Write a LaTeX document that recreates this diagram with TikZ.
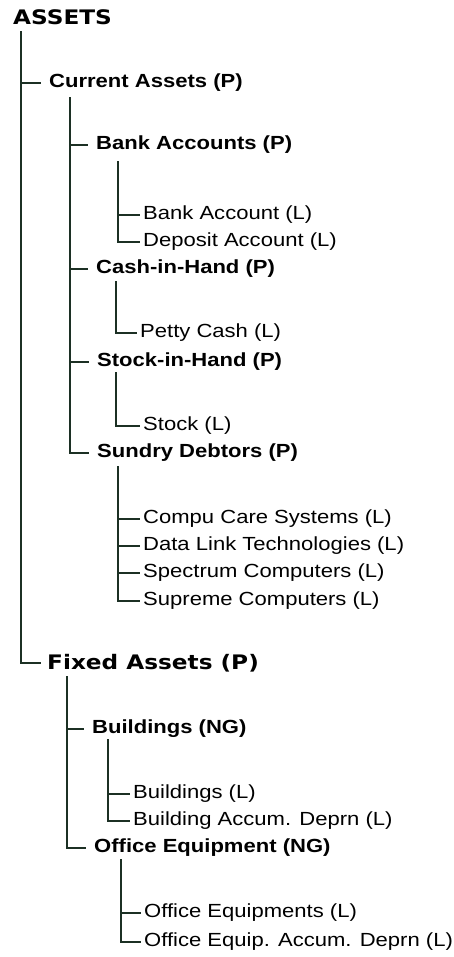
\documentclass[tikz,border=0pt]{standalone}
\usepackage{fontspec}
\setmainfont{Liberation Sans}[FakeStretch=1.16]
\newfontfamily\headfont{DejaVu Sans}[FakeStretch=1.16]
\usepackage{tikz}
\usetikzlibrary{calc}
\definecolor{TreeGreen}{RGB}{28,48,36}
\tikzset{branch/.style={
         color=#1,line width=1.6pt,line cap=rect}}
\tikzset{group/.style={
         anchor=west,inner xsep=#1,inner ysep=0pt,font=\fontsize{19}{22}\selectfont\bfseries}}
\tikzset{leaf/.style={
         anchor=west,inner xsep=#1,inner ysep=0pt,font=\fontsize{19}{22}\selectfont}}
\tikzset{head/.style={
         anchor=west,inner xsep=#1,inner ysep=0pt,font=\fontsize{20}{24}\headfont\bfseries}}

\begin{document}
\begin{tikzpicture}[x=1pt,y=-1pt,
tree/.style={branch=TreeGreen},grp/.style={group=9pt},lf/.style={leaf=4pt}]
\useasboundingbox (0,0) rectangle (454,957);

% 根
\node (as) at (13,17.5) [head=0pt] {ASSETS};
\coordinate (as-t) at (21,32);
\node (ca) at (40,83) [grp] {Current Assets (P)};
\node (fa) at (40,663) [head=7pt] {Fixed Assets (P)};
\foreach \c in {ca,fa} {\draw [tree] (as-t) |- (\c.west);}

% 流动资产
\begin{scope}
\coordinate (ca-t) at (70,98);
\node (ba) at (87,145) [grp] {Bank Accounts (P)};
\node (ch) at (87,269) [grp] {Cash-in-Hand (P)};
\node (sh) at (88,362) [grp] {Stock-in-Hand (P)};
\node (sd) at (88,453) [grp] {Sundry Debtors (P)};
\foreach \c in {ba,ch,sh,sd} {\draw [tree] (ca-t) |- (\c.west);}

\coordinate (ba-t) at (118,162);
\node (bk) at (139,215) [lf] {Bank Account (L)};
\node (dp) at (139,242) [lf] {Deposit Account (L)};
\foreach \c in {bk,dp} {\draw [tree] (ba-t) |- (\c.west);}

\coordinate (ch-t) at (116,282);
\node (pc) at (136,333) [lf] {Petty Cash (L)};
\draw [tree] (ch-t) |- (pc.west);

\coordinate (sh-t) at (116,373);
\node (sk) at (139,426) [lf] {Stock (L)};
\draw [tree] (sh-t) |- (sk.west);

\coordinate (sd-t) at (118,467);
\node (c1) at (139,519) [lf] {Compu Care Systems (L)};
\node (c2) at (139,546) [lf] {Data Link Technologies (L)};
\node (c3) at (139,573) [lf] {Spectrum Computers (L)};
\node (c4) at (139,601) [lf] {Supreme Computers (L)};
\foreach \c in {c1,c2,c3,c4} {\draw [tree] (sd-t) |- (\c.west);}
\end{scope}

% 固定资产
\begin{scope}
\coordinate (fa-t) at (67,677);
\node (bu) at (83,729) [grp] {Buildings (NG)};
\node (oe) at (85,848) [grp] {Office Equipment (NG)};
\foreach \c in {bu,oe} {\draw [tree] (fa-t) |- (\c.west);}

\coordinate (bu-t) at (108,740);
\node (b1) at (129,794) [lf] {Buildings (L)};
\node (b2) at (129,821) [lf] {Building Accum. Deprn (L)};
\foreach \c in {b1,b2} {\draw [tree] (bu-t) |- (\c.west);}

\coordinate (oe-t) at (121,860);
\node (o1) at (140,913) [lf] {Office Equipments (L)};
\node (o2) at (140,942) [lf] {Office Equip. Accum. Deprn (L)};
\foreach \c in {o1,o2} {\draw [tree] (oe-t) |- (\c.west);}
\end{scope}

\end{tikzpicture}
\end{document}
